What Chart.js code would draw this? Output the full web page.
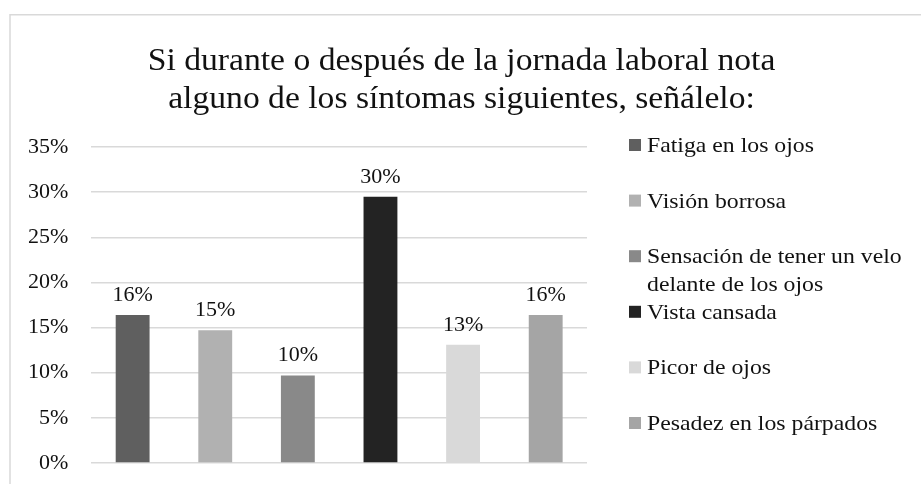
<!DOCTYPE html>
<html>
<head>
<meta charset="utf-8">
<script src="https://cdn.jsdelivr.net/npm/chart.js@4/dist/chart.umd.min.js"></script>
<style>
  html, body { margin: 0; padding: 0; background: #fff; }
  canvas { display: block; }
</style>
</head>
<body>
<canvas id="chart" width="921" height="484"></canvas>
<script>
// datos
const titleLines = ['Si durante o después de la jornada laboral nota', 'alguno de los síntomas siguientes, señálelo:'];
const categories = ['Fatiga en los ojos', 'Visión borrosa', 'Sensación de tener un velo delante de los ojos', 'Vista cansada', 'Picor de ojos', 'Pesadez en los párpados'];
const values = [16.4, 14.7, 9.7, 29.5, 13.1, 16.4];
const barColors = ['#5f5f5f', '#b1b1b1', '#898989', '#232323', '#d9d9d9', '#a5a5a5'];
const yMax = 35;
const yStep = 5;

const FONT = "'Liberation Serif', 'Times New Roman', serif";
const TEXT = '#111111';

// marco gris y título centrado (el original está algo estirado en horizontal)
const framePlugin = {
  id: 'frame',
  beforeDraw(chart) {
    const ctx = chart.ctx;
    ctx.save();
    ctx.fillStyle = '#fff';
    ctx.fillRect(0, 0, chart.width, chart.height);
    ctx.strokeStyle = '#d9d9d9';
    ctx.lineWidth = 1.5;
    ctx.strokeRect(10, 14.75, chart.width + 20, chart.height + 20);
    ctx.restore();
  },
  afterDraw(chart) {
    const ctx = chart.ctx;
    const cx = chart.width / 2 + 1;
    ctx.save();
    ctx.font = '31px ' + FONT;
    ctx.fillStyle = TEXT;
    ctx.textAlign = 'center';
    ctx.textBaseline = 'middle';
    titleLines.forEach((t, i) => {
      ctx.save();
      ctx.translate(cx, 62 + i * 38);
      ctx.scale(1.085, 1);
      ctx.fillText(t, 0, 0);
      ctx.restore();
    });
    ctx.restore();
  }
};

// etiquetas de valor encima de las barras
const valueLabels = {
  id: 'valueLabels',
  afterDatasetsDraw(chart) {
    const ctx = chart.ctx;
    const meta = chart.getDatasetMeta(0);
    ctx.save();
    ctx.font = '22px ' + FONT;
    ctx.fillStyle = TEXT;
    ctx.textAlign = 'center';
    ctx.textBaseline = 'alphabetic';
    meta.data.forEach((bar, i) => {
      ctx.fillText(Math.round(values[i]) + '%', bar.x, bar.y - 14);
    });
    ctx.restore();
  }
};

// leyenda a la derecha, con ajuste de línea
const sideLegend = {
  id: 'sideLegend',
  afterDraw(chart) {
    const ctx = chart.ctx;
    const area = chart.chartArea;
    const sx = 1.08;
    const boxX = area.right + 42;
    const textX = boxX + 18;
    const maxW = (chart.width - textX - 8) / sx;
    const firstY = area.top - 2;
    const step = (area.bottom - 40 - firstY) / (categories.length - 1);
    ctx.save();
    ctx.font = '22px ' + FONT;
    ctx.textAlign = 'left';
    ctx.textBaseline = 'alphabetic';
    const put = (s, y) => {
      ctx.save();
      ctx.translate(textX, y);
      ctx.scale(sx, 1);
      ctx.fillText(s, 0, 0);
      ctx.restore();
    };
    categories.forEach((name, i) => {
      const y = firstY + step * i;
      ctx.fillStyle = barColors[i];
      ctx.fillRect(boxX, y - 6, 12, 12);
      ctx.fillStyle = TEXT;
      const words = name.split(' ');
      let line = '';
      let ly = y + 7;
      words.forEach(w => {
        const test = line ? line + ' ' + w : w;
        if (ctx.measureText(test).width > maxW && line) {
          put(line, ly);
          line = w;
          ly += 28;
        } else {
          line = test;
        }
      });
      put(line, ly);
    });
    ctx.restore();
  }
};

new Chart(document.getElementById('chart').getContext('2d'), {
  type: 'bar',
  data: {
    labels: categories,
    datasets: [{
      data: values,
      backgroundColor: barColors,
      borderWidth: 0,
      categoryPercentage: 1,
      barPercentage: 0.41
    }]
  },
  options: {
    responsive: false,
    animation: false,
    layout: { padding: { left: 5, right: 334, top: 147, bottom: 21 } },
    scales: {
      x: { display: false },
      y: {
        min: 0,
        max: yMax,
        border: { display: false },
        grid: { color: '#d9d9d9', lineWidth: 1.5, drawTicks: false },
        ticks: {
          stepSize: yStep,
          padding: 23,
          color: TEXT,
          font: { family: FONT, size: 22 },
          callback: v => v + '%'
        },
        afterFit(scale) {
          // el padding de las etiquetas no debe empujar el área hacia arriba
          scale.paddingTop = 0;
          scale.paddingBottom = 0;
        }
      }
    },
    plugins: {
      legend: { display: false },
      tooltip: { enabled: false },
      title: { display: false }
    }
  },
  plugins: [framePlugin, valueLabels, sideLegend]
});
</script>
</body>
</html>
